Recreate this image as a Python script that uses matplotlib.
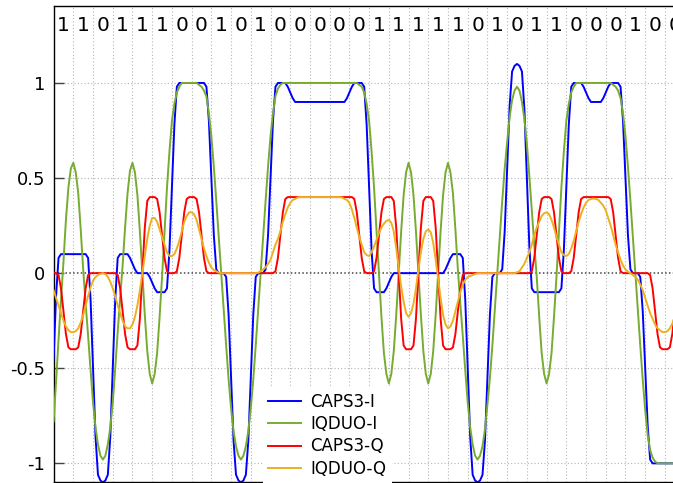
import numpy as np
import matplotlib
matplotlib.use("Agg")
import matplotlib.pyplot as plt

# bit sequence written along the top, one bit per grid cell
bits = [1, 1, 0, 1, 1, 1, 0, 0, 1, 0, 1, 0, 0, 0, 0, 0,
        1, 1, 1, 1, 1, 0, 1, 0, 1, 1, 0, 0, 0, 1, 0, 0]

# waveform samples, 8 per bit (one row = one bit)
step = 0.125

caps3_i = [
    -0.45, -0.12, 0.08, 0.10, 0.10, 0.10, 0.10, 0.10,
    0.10, 0.10, 0.10, 0.10, 0.10, 0.10, 0.08, -0.14,
    -0.50, -0.86, -1.06, -1.09, -1.10, -1.09, -1.06, -0.86,
    -0.50, -0.14, 0.08, 0.10, 0.10, 0.10, 0.10, 0.08,
    0.05, 0.02, 0.00, 0.00, 0.00, 0.00, 0.00, -0.02,
    -0.05, -0.08, -0.10, -0.10, -0.10, -0.10, -0.08, 0.12,
    0.45, 0.78, 0.98, 1.00, 1.00, 1.00, 1.00, 1.00,
    1.00, 1.00, 1.00, 1.00, 1.00, 1.00, 0.98, 0.80,
    0.50, 0.20, 0.02, 0.00, 0.00, 0.00, -0.02, -0.22,
    -0.55, -0.88, -1.06, -1.09, -1.10, -1.09, -1.06, -0.88,
    -0.55, -0.22, -0.02, 0.00, 0.00, 0.00, 0.02, 0.20,
    0.50, 0.80, 0.98, 1.00, 1.00, 1.00, 1.00, 0.98,
    0.95, 0.92, 0.90, 0.90, 0.90, 0.90, 0.90, 0.90,
    0.90, 0.90, 0.90, 0.90, 0.90, 0.90, 0.90, 0.90,
    0.90, 0.90, 0.90, 0.90, 0.90, 0.90, 0.90, 0.92,
    0.95, 0.98, 1.00, 1.00, 1.00, 1.00, 0.98, 0.78,
    0.45, 0.12, -0.08, -0.10, -0.10, -0.10, -0.10, -0.08,
    -0.05, -0.02, 0.00, 0.00, 0.00, 0.00, 0.00, 0.00,
    0.00, 0.00, 0.00, 0.00, 0.00, 0.00, 0.00, 0.00,
    0.00, 0.00, 0.00, 0.00, 0.00, 0.00, 0.00, 0.02,
    0.05, 0.08, 0.10, 0.10, 0.10, 0.10, 0.08, -0.14,
    -0.50, -0.86, -1.06, -1.09, -1.10, -1.09, -1.06, -0.88,
    -0.55, -0.22, -0.02, 0.00, 0.00, 0.00, 0.02, 0.22,
    0.55, 0.88, 1.06, 1.09, 1.10, 1.09, 1.06, 0.86,
    0.50, 0.14, -0.08, -0.10, -0.10, -0.10, -0.10, -0.10,
    -0.10, -0.10, -0.10, -0.10, -0.10, -0.10, -0.08, 0.12,
    0.45, 0.78, 0.98, 1.00, 1.00, 1.00, 1.00, 0.98,
    0.95, 0.92, 0.90, 0.90, 0.90, 0.90, 0.90, 0.92,
    0.95, 0.98, 1.00, 1.00, 1.00, 1.00, 0.98, 0.80,
    0.50, 0.20, 0.02, 0.00, 0.00, 0.00, -0.02, -0.20,
    -0.50, -0.80, -0.98, -1.00, -1.00, -1.00, -1.00, -1.00,
    -1.00, -1.00, -1.00, -1.00, -1.00, -1.00, -1.00, -1.00,
]

iqduo_i = [
    -0.78, -0.57, -0.35, -0.14, 0.06, 0.28, 0.45, 0.55,
    0.58, 0.53, 0.42, 0.23, 0.02, -0.16, -0.33, -0.51,
    -0.68, -0.81, -0.90, -0.96, -0.98, -0.96, -0.90, -0.81,
    -0.68, -0.50, -0.31, -0.13, 0.04, 0.24, 0.42, 0.54,
    0.58, 0.53, 0.41, 0.22, 0.00, -0.22, -0.41, -0.53,
    -0.58, -0.53, -0.42, -0.23, -0.02, 0.22, 0.45, 0.64,
    0.80, 0.89, 0.95, 0.98, 1.00, 1.00, 1.00, 1.00,
    1.00, 1.00, 1.00, 0.99, 0.98, 0.96, 0.93, 0.84,
    0.72, 0.56, 0.38, 0.19, 0.00, -0.19, -0.38, -0.56,
    -0.71, -0.83, -0.91, -0.96, -0.98, -0.96, -0.91, -0.83,
    -0.71, -0.56, -0.38, -0.19, 0.00, 0.19, 0.38, 0.56,
    0.72, 0.84, 0.93, 0.97, 0.99, 1.00, 1.00, 1.00,
    1.00, 1.00, 1.00, 1.00, 1.00, 1.00, 1.00, 1.00,
    1.00, 1.00, 1.00, 1.00, 1.00, 1.00, 1.00, 1.00,
    1.00, 1.00, 1.00, 1.00, 1.00, 1.00, 1.00, 1.00,
    1.00, 1.00, 1.00, 1.00, 0.99, 0.98, 0.95, 0.89,
    0.80, 0.64, 0.45, 0.22, 0.00, -0.23, -0.42, -0.53,
    -0.58, -0.53, -0.41, -0.22, 0.00, 0.22, 0.41, 0.53,
    0.58, 0.53, 0.41, 0.22, 0.00, -0.22, -0.41, -0.53,
    -0.58, -0.53, -0.41, -0.22, 0.00, 0.22, 0.41, 0.53,
    0.58, 0.53, 0.42, 0.23, 0.02, -0.16, -0.33, -0.51,
    -0.68, -0.81, -0.90, -0.96, -0.98, -0.96, -0.91, -0.82,
    -0.69, -0.55, -0.38, -0.19, 0.00, 0.19, 0.38, 0.55,
    0.69, 0.82, 0.91, 0.96, 0.98, 0.96, 0.90, 0.81,
    0.68, 0.51, 0.33, 0.15, -0.02, -0.23, -0.42, -0.53,
    -0.58, -0.53, -0.42, -0.23, -0.02, 0.22, 0.45, 0.64,
    0.80, 0.89, 0.95, 0.98, 1.00, 1.00, 1.00, 1.00,
    1.00, 1.00, 1.00, 1.00, 1.00, 1.00, 1.00, 1.00,
    1.00, 1.00, 1.00, 0.99, 0.98, 0.96, 0.92, 0.84,
    0.72, 0.56, 0.38, 0.19, 0.00, -0.19, -0.38, -0.56,
    -0.72, -0.85, -0.93, -0.97, -0.99, -1.00, -1.00, -1.00,
    -1.00, -1.00, -1.00, -1.00, -1.00, -1.00, -1.00, -1.00,
]

caps3_q = [
    0.00, 0.00, -0.01, -0.08, -0.20, -0.32, -0.39, -0.40,
    -0.40, -0.40, -0.39, -0.32, -0.20, -0.08, -0.01, 0.00,
    0.00, 0.00, 0.00, 0.00, 0.00, 0.00, 0.00, 0.00,
    0.00, 0.00, -0.01, -0.08, -0.20, -0.32, -0.39, -0.40,
    -0.40, -0.40, -0.38, -0.24, 0.00, 0.24, 0.38, 0.40,
    0.40, 0.40, 0.39, 0.32, 0.20, 0.08, 0.01, 0.00,
    0.00, 0.00, 0.01, 0.08, 0.20, 0.32, 0.39, 0.40,
    0.40, 0.40, 0.39, 0.32, 0.20, 0.08, 0.01, 0.00,
    0.00, 0.00, 0.00, 0.00, 0.00, 0.00, 0.00, 0.00,
    0.00, 0.00, 0.00, 0.00, 0.00, 0.00, 0.00, 0.00,
    0.00, 0.00, 0.00, 0.00, 0.00, 0.00, 0.00, 0.00,
    0.00, 0.00, 0.01, 0.08, 0.20, 0.32, 0.39, 0.40,
    0.40, 0.40, 0.40, 0.40, 0.40, 0.40, 0.40, 0.40,
    0.40, 0.40, 0.40, 0.40, 0.40, 0.40, 0.40, 0.40,
    0.40, 0.40, 0.40, 0.40, 0.40, 0.40, 0.40, 0.40,
    0.40, 0.40, 0.39, 0.32, 0.20, 0.08, 0.01, 0.00,
    0.00, 0.00, 0.01, 0.08, 0.20, 0.32, 0.39, 0.40,
    0.40, 0.40, 0.38, 0.24, 0.00, -0.24, -0.38, -0.40,
    -0.40, -0.40, -0.38, -0.24, 0.00, 0.24, 0.38, 0.40,
    0.40, 0.40, 0.38, 0.24, 0.00, -0.24, -0.38, -0.40,
    -0.40, -0.40, -0.39, -0.32, -0.20, -0.08, -0.01, 0.00,
    0.00, 0.00, 0.00, 0.00, 0.00, 0.00, 0.00, 0.00,
    0.00, 0.00, 0.00, 0.00, 0.00, 0.00, 0.00, 0.00,
    0.00, 0.00, 0.00, 0.00, 0.00, 0.00, 0.00, 0.00,
    0.00, 0.00, 0.01, 0.08, 0.20, 0.32, 0.39, 0.40,
    0.40, 0.40, 0.39, 0.32, 0.20, 0.08, 0.01, 0.00,
    0.00, 0.00, 0.01, 0.08, 0.20, 0.32, 0.39, 0.40,
    0.40, 0.40, 0.40, 0.40, 0.40, 0.40, 0.40, 0.40,
    0.40, 0.40, 0.39, 0.32, 0.20, 0.08, 0.01, 0.00,
    0.00, 0.00, 0.00, 0.00, 0.00, 0.00, 0.00, 0.00,
    0.00, 0.00, -0.01, -0.08, -0.20, -0.32, -0.39, -0.40,
    -0.40, -0.40, -0.39, -0.32, -0.20, -0.08, -0.01, 0.00,
]

iqduo_q = [
    -0.09, -0.13, -0.17, -0.21, -0.25, -0.28, -0.30, -0.31,
    -0.31, -0.305, -0.29, -0.26, -0.22, -0.17, -0.12, -0.075,
    -0.04, -0.02, -0.01, -0.003, 0.00, -0.005, -0.02, -0.045,
    -0.08, -0.12, -0.17, -0.21, -0.25, -0.28, -0.29, -0.29,
    -0.27, -0.23, -0.17, -0.09, 0.00, 0.09, 0.18, 0.25,
    0.29, 0.29, 0.27, 0.23, 0.19, 0.15, 0.11, 0.09,
    0.09, 0.10, 0.13, 0.17, 0.22, 0.27, 0.30, 0.32,
    0.32, 0.31, 0.28, 0.23, 0.18, 0.13, 0.09, 0.055,
    0.03, 0.015, 0.01, 0.003, 0.00, 0.00, 0.00, 0.00,
    0.00, 0.00, 0.00, 0.00, 0.00, 0.00, 0.00, 0.00,
    0.00, 0.00, 0.00, 0.003, 0.01, 0.02, 0.03, 0.05,
    0.07, 0.11, 0.15, 0.18, 0.22, 0.27, 0.31, 0.345,
    0.37, 0.385, 0.39, 0.398, 0.40, 0.40, 0.40, 0.40,
    0.40, 0.40, 0.40, 0.40, 0.40, 0.40, 0.40, 0.40,
    0.40, 0.40, 0.40, 0.40, 0.40, 0.398, 0.39, 0.385,
    0.37, 0.335, 0.29, 0.24, 0.19, 0.15, 0.11, 0.095,
    0.09, 0.11, 0.14, 0.175, 0.21, 0.24, 0.26, 0.275,
    0.28, 0.265, 0.22, 0.13, 0.03, -0.07, -0.15, -0.21,
    -0.23, -0.21, -0.16, -0.08, 0.02, 0.11, 0.18, 0.22,
    0.23, 0.215, 0.16, 0.07, -0.03, -0.13, -0.22, -0.27,
    -0.29, -0.28, -0.25, -0.20, -0.15, -0.10, -0.06, -0.035,
    -0.02, -0.015, -0.01, -0.005, 0.00, 0.00, 0.00, 0.00,
    0.00, 0.00, 0.00, 0.00, 0.00, 0.00, 0.00, 0.00,
    0.00, 0.00, 0.00, 0.00, 0.005, 0.01, 0.03, 0.05,
    0.08, 0.11, 0.15, 0.20, 0.24, 0.27, 0.30, 0.315,
    0.32, 0.31, 0.28, 0.24, 0.19, 0.15, 0.11, 0.095,
    0.09, 0.10, 0.13, 0.17, 0.22, 0.27, 0.31, 0.345,
    0.37, 0.385, 0.39, 0.392, 0.39, 0.385, 0.37, 0.355,
    0.33, 0.29, 0.25, 0.20, 0.15, 0.11, 0.07, 0.04,
    0.02, 0.008, 0.00, -0.01, -0.02, -0.035, -0.06, -0.09,
    -0.13, -0.17, -0.21, -0.24, -0.27, -0.29, -0.30, -0.31,
    -0.31, -0.305, -0.29, -0.265, -0.23, -0.19, -0.15, -0.11,
]

series_names = ["CAPS3-I", "IQDUO-I", "CAPS3-Q", "IQDUO-Q"]
series_colors = ["#0000ff", "#77ac30", "#ff0000", "#edb120"]

ytick_values = [-1, -0.5, 0, 0.5, 1]
ytick_labels = ["-1", "-0.5", "0", "0.5", "1"]

W, H = 673, 483
fig = plt.figure(figsize=(W / 100, H / 100), dpi=100)
left, top, bottom = 53.6, 6.5, 482.0
ax = fig.add_axes([left / W, 1 - bottom / H, 1 - left / W, (bottom - top) / H])

t = np.arange(len(caps3_i)) * step
for ys, name, col in zip([caps3_i, iqduo_i, caps3_q, iqduo_q], series_names, series_colors):
    ax.plot(t, ys, color=col, lw=1.4, label=name, zorder=3)

ax.set_xlim(0, (W - left) / 19.72)
ax.set_ylim(-1.098, 1.402)

# grid: one vertical line per bit, horizontal at the y ticks
for k in range(1, len(bits)):
    ax.axvline(k, color="#b4b4b4", lw=0.8, ls=(0, (1, 2)), zorder=1)
for v in ytick_values:
    if v != 0:
        ax.axhline(v, color="#b4b4b4", lw=0.8, ls=(0, (1, 2)), zorder=1)
ax.axhline(0, color="#444444", lw=1.1, ls=(0, (1, 1.5)), zorder=2)

for k, b in enumerate(bits):
    ax.text(k + 0.5, 1.30, str(b), ha="center", va="center", fontsize=14.5, clip_on=False)

ax.set_xticks([])
ax.set_yticks(ytick_values)
ax.set_yticklabels(ytick_labels, fontsize=13)
ax.tick_params(axis="y", direction="in", length=7, width=1, pad=6, color="#444444")
ax.spines["right"].set_visible(False)
for s in ["left", "top", "bottom"]:
    ax.spines[s].set_linewidth(1.0)

ax.legend(loc="upper left", bbox_to_anchor=(263 / W, 1 - 388 / H), bbox_transform=fig.transFigure,
          borderaxespad=0, borderpad=0.3, frameon=True, framealpha=1, edgecolor="none",
          fancybox=False, handlelength=2.0, handletextpad=0.55, labelspacing=0.25, fontsize=12)

fig.savefig("out.png", dpi=100)
